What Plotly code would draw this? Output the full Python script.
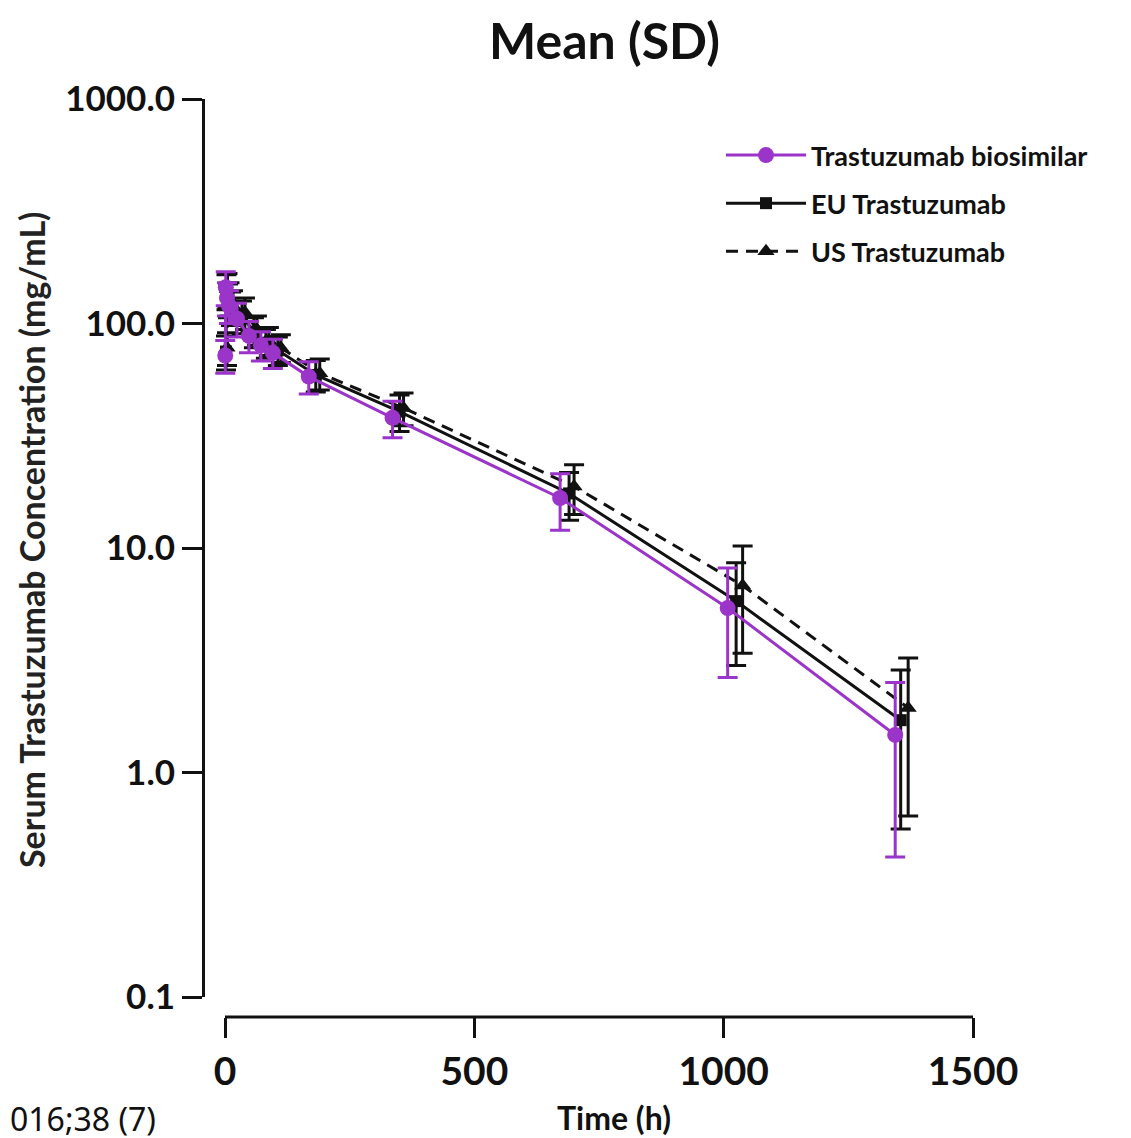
import plotly.graph_objects as go

W, H = 1131, 1138

# ---- data ----
bio_time = [0.5, 1.5, 4, 8, 24, 48, 72, 96, 168, 336, 672, 1008, 1344]
bio_mean = [72, 145, 130, 120, 105, 88, 80, 74, 58, 38, 16.7, 5.4, 1.47]
bio_sd = [12, 25, 22, 20, 18, 14, 12, 11, 9.5, 7, 4.7, 2.75, 1.05]

eu_time = [2, 3, 6, 12, 34, 58, 82, 106, 182, 350, 690, 1025, 1355]
eu_mean = [75, 140, 128, 118, 108, 92, 82, 76, 59, 40.5, 17.5, 5.8, 1.71]
eu_sd = [13, 25, 22, 20, 18, 14, 12, 11, 9.5, 7.5, 4.2, 2.8, 1.15]

us_time = [4, 5, 9, 16, 40, 64, 88, 112, 190, 358, 700, 1038, 1370]
us_mean = [78, 142, 130, 120, 112, 94, 84, 78, 60, 42, 18.8, 6.8, 1.94]
us_sd = [13, 25, 22, 20, 18, 14, 12, 11, 9.5, 7, 4.7, 3.4, 1.3]

y_tickvals = [0.1, 1, 10, 100, 1000]
y_ticktext = ["0.1", "1.0", "10.0", "100.0", "1000.0"]
x_tickvals = [0, 500, 1000, 1500]
x_ticktext = ["0", "500", "1000", "1500"]

names = ["<b>Trastuzumab biosimilar</b>", "<b>EU Trastuzumab</b>", "<b>US Trastuzumab</b>"]

PURPLE = "#9B35C9"
BLACK = "#111111"
FONT = "Lato"
OFF = 8  # page body margin

def px(v):
    return (v - OFF) / W

def py(v):
    return 1 - (v - OFF) / H

fig = go.Figure()

fig.add_trace(go.Scatter(
    x=us_time, y=us_mean, name=names[2], legendgroup="c", legendrank=3,
    mode="lines+markers",
    line=dict(color=BLACK, width=3, dash="12px,8px"),
    marker=dict(symbol="triangle-up", size=15, color=BLACK),
    error_y=dict(type="data", array=us_sd, color=BLACK, thickness=3, width=10),
    cliponaxis=False,
))
fig.add_trace(go.Scatter(
    x=eu_time, y=eu_mean, name=names[1], legendgroup="b", legendrank=2,
    mode="lines+markers",
    line=dict(color=BLACK, width=3),
    marker=dict(symbol="square", size=12, color=BLACK),
    error_y=dict(type="data", array=eu_sd, color=BLACK, thickness=3, width=10),
    cliponaxis=False,
))
fig.add_trace(go.Scatter(
    x=bio_time, y=bio_mean, name=names[0], legendgroup="a", legendrank=1,
    mode="lines+markers",
    line=dict(color=PURPLE, width=3),
    marker=dict(symbol="circle", size=16, color=PURPLE),
    error_y=dict(type="data", array=bio_sd, color=PURPLE, thickness=3, width=10),
    cliponaxis=False,
))

# x axis: 0 maps to px 225, 1500 to px 973
s = (973 - 225) / 1500.0
x0 = -(225 - 205) / s

fig.update_layout(
    width=W, height=H,
    margin=dict(l=0, r=0, t=0, b=0),
    paper_bgcolor="white", plot_bgcolor="white",
    showlegend=True,
    legend=dict(
        x=px(721), y=py(131), xanchor="left", yanchor="top",
        traceorder="grouped", tracegroupgap=10,
        font=dict(family=FONT, size=27, color="#111111"),
        itemwidth=80, bgcolor="rgba(0,0,0,0)",
    ),
    xaxis=dict(
        domain=[px(205), px(973)], range=[x0, 1500],
        anchor="free", position=py(1017),
        showline=False, showgrid=False, zeroline=False,
        tickmode="array", tickvals=x_tickvals, ticktext=x_ticktext,
        ticks="outside", ticklen=20, tickwidth=3, tickcolor=BLACK,
        tickfont=dict(family=FONT, size=39, color="#111111", weight="bold"),
        automargin=False,
    ),
    yaxis=dict(
        domain=[py(997), py(99)], type="log", range=[-1, 3],
        anchor="x",
        showline=True, linewidth=3, linecolor=BLACK, mirror=False,
        showgrid=False, zeroline=False,
        tickmode="array", tickvals=y_tickvals, ticktext=y_ticktext,
        ticks="outside", ticklen=20, tickwidth=3, tickcolor=BLACK,
        tickfont=dict(family=FONT, size=35, color="#111111", weight="bold"),
        automargin=False,
    ),
    shapes=[dict(type="line", xref="x", yref="paper", x0=0, x1=1500,
                 y0=py(1017), y1=py(1017), line=dict(color=BLACK, width=3))],
    annotations=[
        dict(text="<b>Mean (SD)</b>", x=px(604), y=py(40), xref="paper", yref="paper",
             xanchor="center", yanchor="middle", showarrow=False,
             font=dict(family=FONT, size=50, color="#111111")),
        dict(text="<b>Serum Trastuzumab Concentration (mg/mL)</b>", x=px(31), y=py(540),
             xref="paper", yref="paper", xanchor="center", yanchor="middle",
             showarrow=False, textangle=-90,
             font=dict(family=FONT, size=34, color="#222222")),
        dict(text="<b>Time (h)</b>", x=px(614), y=py(1117), xref="paper", yref="paper",
             xanchor="center", yanchor="middle", showarrow=False,
             font=dict(family=FONT, size=32, color="#111111")),
        dict(text="016;38 (7)", x=0, y=py(1118), xref="paper", yref="paper",
             xanchor="left", yanchor="middle", showarrow=False,
             font=dict(family="Noto Sans", size=32, color="#111111")),
    ],
)

fig.write_html("out.html")
